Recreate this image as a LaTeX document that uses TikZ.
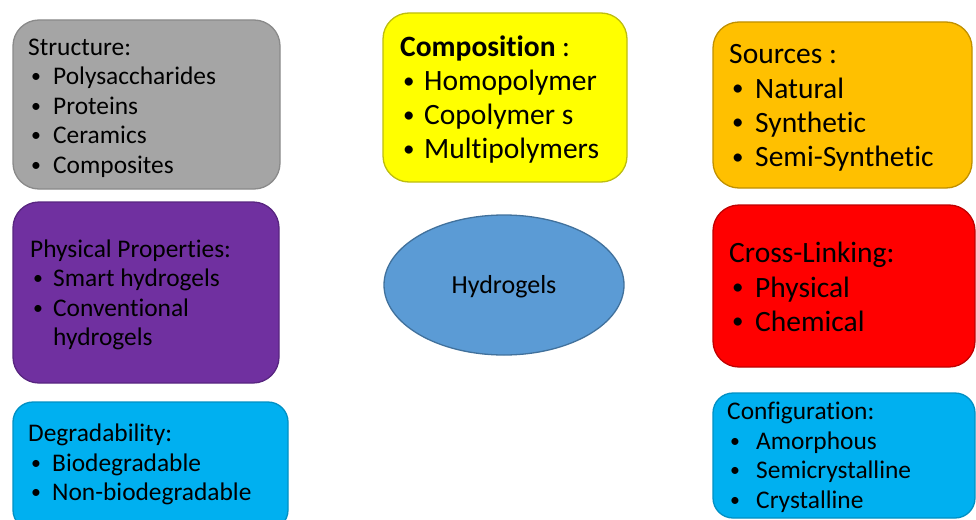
\documentclass[tikz,border=0pt]{standalone}
\usepackage{fontspec}
\setmainfont{Carlito}[Ligatures={NoCommon}]
\usetikzlibrary{shapes.geometric}
\definecolor{grayfill}{HTML}{A5A5A5}
\definecolor{graydraw}{HTML}{8A8A8A}
\definecolor{yelfill}{HTML}{FFFF00}
\definecolor{yeldraw}{HTML}{BDBD10}
\definecolor{orfill}{HTML}{FFC000}
\definecolor{ordraw}{HTML}{C09000}
\definecolor{purfill}{HTML}{7030A0}
\definecolor{purdraw}{HTML}{582580}
\definecolor{redfill}{HTML}{FF0000}
\definecolor{reddraw}{HTML}{C00000}
\definecolor{cyfill}{HTML}{00B0F0}
\definecolor{cydraw}{HTML}{0090C4}
\definecolor{elfill}{HTML}{5B9BD5}
\definecolor{eldraw}{HTML}{41719C}
\newcommand{\hgbul}[2][25pt]{\makebox[#1][l]{\hspace{3pt}\raisebox{0.08em}{\scalebox{0.78}{•}}}#2}
\newcommand{\hgtop}{\rule{0pt}{0.8em}}
\newcommand{\hgbot}{\rule[-0.25em]{0pt}{0pt}}
\tikzset{
  card/.style 2 args={draw=#2, fill=#1, line width=1.3pt, rounded corners=26pt, inner sep=0pt},
  smallfont/.style={font=\fontsize{25.4}{29.5}\selectfont},
  bigfont/.style={font=\fontsize{29.5}{34.2}\selectfont},
  txt/.style={anchor=west, inner sep=0pt, align=left, text=black},
}
\begin{document}
\begin{tikzpicture}[x=1pt, y=-1pt]
\useasboundingbox (0,0) rectangle (976,519);
\clip (0,0) rectangle (976,519);
% boxes
\node[card={grayfill}{graydraw}, minimum width=267pt, minimum height=169pt] (structure) at (146.5,104.5) {};
\node[card={yelfill}{yeldraw}, minimum width=244pt, minimum height=169pt] (composition) at (505,97.5) {};
\node[card={orfill}{ordraw}, minimum width=259pt, minimum height=166pt] (sources) at (842.5,105) {};
\node[card={purfill}{purdraw}, minimum width=266pt, minimum height=181pt] (physical) at (146,292.5) {};
\node[card={redfill}{reddraw}, minimum width=262pt, minimum height=162pt] (crosslink) at (844,286) {};
\node[card={cyfill}{cydraw}, rounded corners=20pt, minimum width=275pt, minimum height=128pt] (degrad) at (150.5,466) {};
\node[card={cyfill}{cydraw}, rounded corners=20pt, minimum width=262pt, minimum height=125pt] (config) at (844,455.5) {};
\node[ellipse, draw=eldraw, fill=elfill, line width=1.3pt, minimum width=240pt, minimum height=140pt, inner sep=0pt] (hydrogels) at (504,285) {};
% texts
\node[txt, smallfont] (structure-t) at (28,107.5) {\hgtop Structure:\\ \hgbul{Polysaccharides}\\ \hgbul{Proteins}\\ \hgbul{Ceramics}\\ \hgbul{Composites}\hgbot};
\node[txt, bigfont] (composition-t) at (400,99.5) {\hgtop\textbf{Composition} :\\ \hgbul[24pt]{Homopolymer}\\ \hgbul[24pt]{Copolymer s}\\ \hgbul[24pt]{Multipolymers}\hgbot};
\node[txt, bigfont] (sources-t) at (729,107) {\hgtop Sources :\\ \hgbul[26pt]{Natural}\\ \hgbul[26pt]{Synthetic}\\ \hgbul[26pt]{Semi-Synthetic}\hgbot};
\node[txt, smallfont] (physical-t) at (30,294.5) {\hgtop Physical Properties:\\ \hgbul[23pt]{Smart hydrogels}\\ \hgbul[23pt]{Conventional}\\ \hspace{23pt}hydrogels\hgbot};
\node[txt, bigfont] (crosslink-t) at (729,289) {\hgtop Cross-Linking:\\ \hgbul[26pt]{Physical}\\ \hgbul[26pt]{Chemical}\hgbot};
\node[txt, smallfont] (degrad-t) at (28,464.5) {\hgtop Degradability:\\ \hgbul[24pt]{Biodegradable}\\ \hgbul[24pt]{Non-biodegradable}\hgbot};
\node[txt, smallfont] (config-t) at (727,457) {\hgtop Configuration:\\ \hgbul[29pt]{Amorphous}\\ \hgbul[29pt]{Semicrystalline}\\ \hgbul[29pt]{Crystalline}\hgbot};
\node[inner sep=0pt, font=\fontsize{26}{30}\selectfont] (hydrogels-t) at ([yshift=-2pt]hydrogels.center) {Hydrogels};
\end{tikzpicture}
\end{document}
